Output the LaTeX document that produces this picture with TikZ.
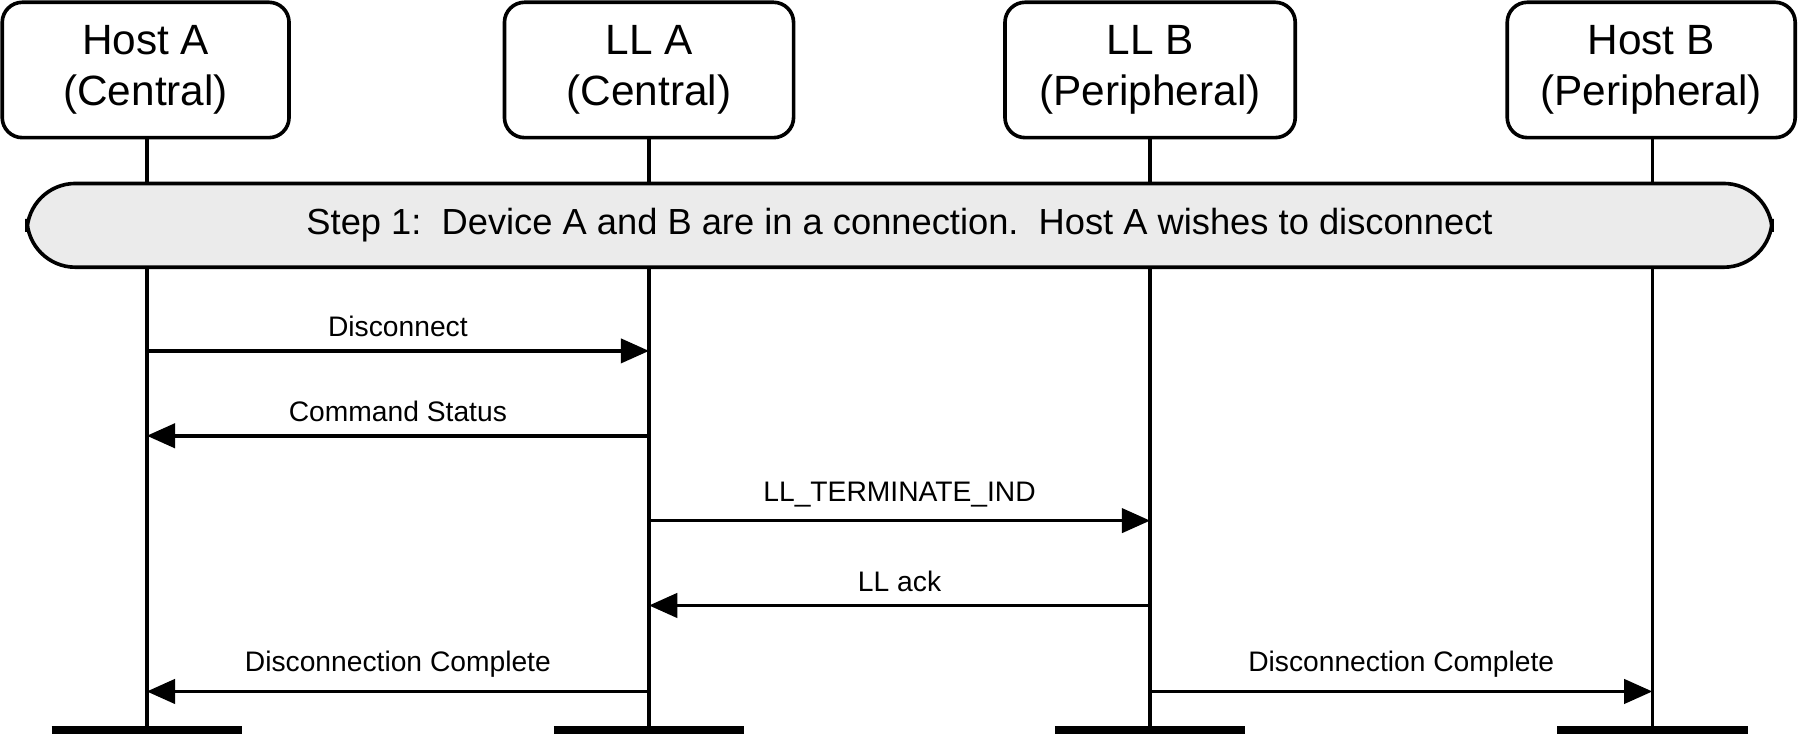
\documentclass[tikz,border=0pt]{standalone}
\usepackage{fontspec}
\setmainfont{Liberation Sans}
\usetikzlibrary{arrows.meta}
\begin{document}
\begin{tikzpicture}[x=0.01cm,y=-0.01cm,
  box/.style={draw,line width=0.9pt,rounded corners=5pt,minimum width=2.5cm,minimum height=1.18cm,align=center,font=\fontsize{10.5}{12.5}\selectfont,inner sep=0pt},
  life/.style={line width=0.9pt},
  msg/.style={line width=0.9pt,-{Triangle[length=7pt,width=6pt]}},
  lbl/.style={font=\fontsize{7}{8}\selectfont,above,inner sep=3pt},
  bar/.style={line width=2pt}]
\useasboundingbox (0,0) rectangle (1568,644);
\node[box] (ha) at (127,61) {Host A\\(Central)};
\node[box,minimum width=2.52cm] (la) at (566,61) {LL A\\(Central)};
\node[box,minimum width=2.53cm] (lb) at (1003,61) {LL B\\(Peripheral)};
\node[box,minimum width=2.51cm] (hb) at (1440,61) {Host B\\(Peripheral)};
\foreach \n/\x in {a/128,b/566,c/1003,d/1441}{
  \coordinate (t\n) at (\x,120);
  \coordinate (e\n) at (\x,637);
  \coordinate (bl\n) at (\x-83,637);
  \coordinate (br\n) at (\x+83,637);
  \draw[life] (t\n) -- (e\n);
  \draw[bar] (bl\n) -- (br\n);
}
\node[draw,line width=0.9pt,fill=black!8,rounded corners=12pt,minimum width=15.21cm,minimum height=0.73cm,font=\fontsize{9}{11}\selectfont] (step) at (784.5,196.5) {Step 1:\ \ Device A and B are in a connection.\ \ Host A wishes to disconnect};
\foreach \n/\x in {a/128,b/566,c/1003,d/1441}{
  \foreach \y in {306,380,454,528,603}{\coordinate (\n\y) at (\x,\y);}
}
\draw[msg] (a306) -- node[lbl]{Disconnect} (b306);
\draw[msg] (b380) -- node[lbl]{Command Status} (a380);
\draw[msg] (b454) -- node[lbl]{LL\_TERMINATE\_IND} (c454);
\draw[msg] (c528) -- node[lbl]{LL ack} (b528);
\draw[msg] (b603) -- node[lbl]{Disconnection Complete} (a603);
\draw[msg] (c603) -- node[lbl]{Disconnection Complete} (d603);
\end{tikzpicture}
\end{document}
